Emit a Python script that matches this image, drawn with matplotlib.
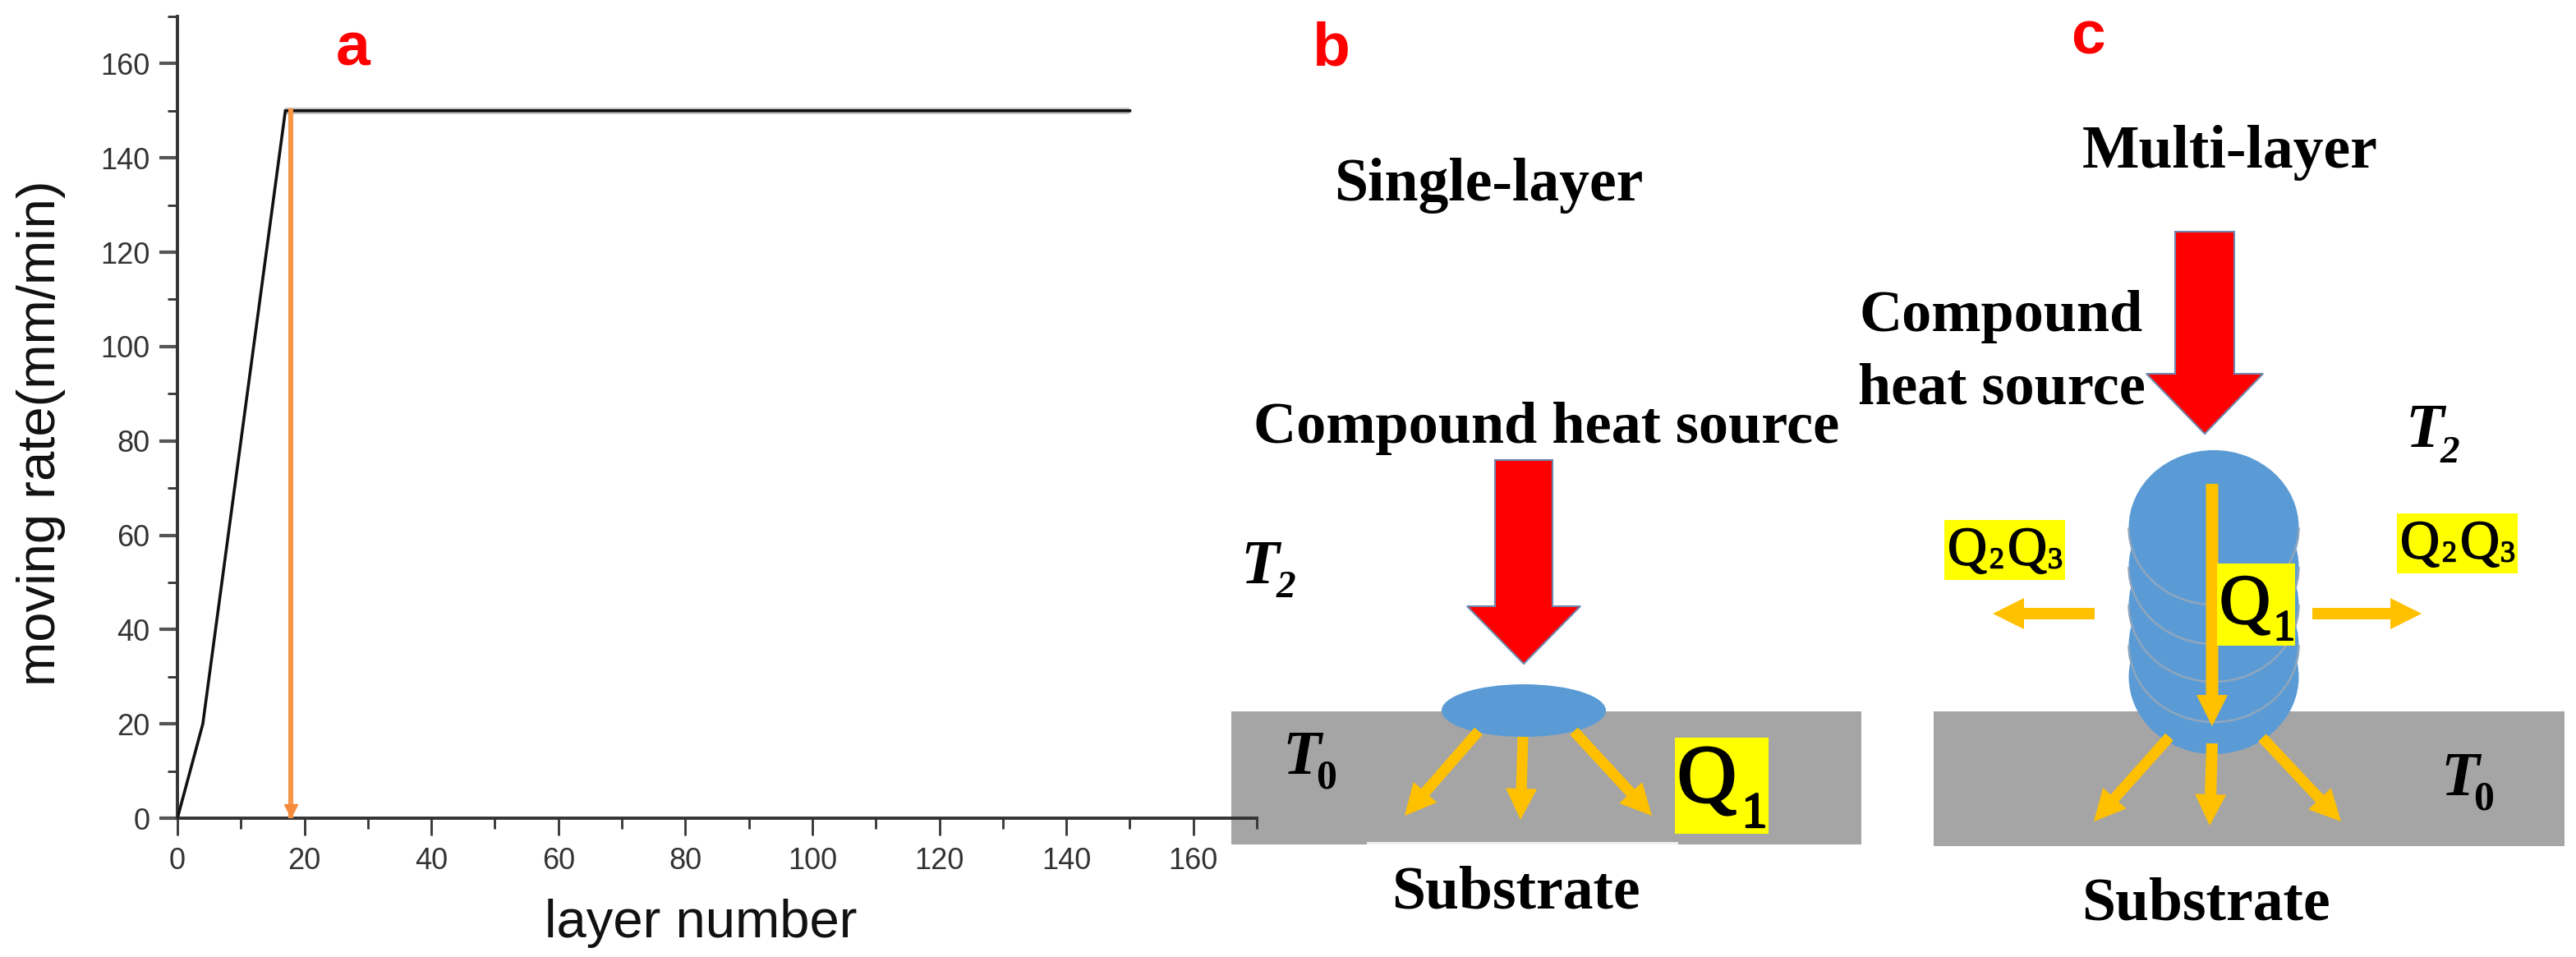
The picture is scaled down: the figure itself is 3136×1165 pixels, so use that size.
import matplotlib
matplotlib.use("Agg")
import matplotlib.pyplot as plt
import matplotlib.patheffects as pe
from matplotlib.patches import Rectangle, Ellipse, FancyArrow, Polygon, Arc
from matplotlib.ticker import MultipleLocator

W, H = 3136, 1165

# panel a data
layers = [0, 4, 17, 150]
rates = [0, 20, 150, 150]
marker_layer = [17.8, 17.8]
marker_rate = [150, 0]
x_major = [0, 20, 40, 60, 80, 100, 120, 140, 160]
y_major = [0, 20, 40, 60, 80, 100, 120, 140, 160]

BLUE = "#5b9bd5"
GRAY = "#a5a5a5"
ORANGE = "#ffc000"
SERIF = "Liberation Serif"
SANS = "Liberation Sans"

fig = plt.figure(figsize=(W / 100, H / 100), dpi=100, facecolor="white")

# the schematic is drawn in picture pixels on a full figure axes
bg = fig.add_axes([0, 0, 1, 1], zorder=1)
bg.set_xlim(0, W)
bg.set_ylim(H, 0)
bg.axis("off")

# chart axes sits on top, its end tick runs over the grey block
ax = fig.add_axes([216 / W, 1 - 996 / H, (1530 - 216) / W, (996 - 20) / H], zorder=2)
ax.patch.set_alpha(0)
ax.plot(layers[2:], rates[2:], color="#c8c8c8", lw=6, solid_capstyle="butt", zorder=2)
ax.plot(layers, rates, color="#111111", lw=2.6, solid_joinstyle="miter", zorder=3)
ax.plot(marker_layer, marker_rate, color="#f79646", lw=4.4, zorder=4)
ax.plot(marker_layer[1:], [1.5], marker="v", ms=11, color="#f58a3c", clip_on=False, zorder=5)
ax.set_xlim(0, 170)
ax.set_ylim(0, 170)
ax.spines["top"].set_visible(False)
ax.spines["right"].set_visible(False)
for side in ["left", "bottom"]:
    ax.spines[side].set_linewidth(2.8)
    ax.spines[side].set_color("#333333")
ax.set_xticks(x_major)
ax.set_yticks(y_major)
ax.xaxis.set_minor_locator(MultipleLocator(10))
ax.yaxis.set_minor_locator(MultipleLocator(10))
ax.tick_params(axis="x", which="major", length=15, width=2, color="#333333", pad=10,
               labelsize=26, labelcolor="#333333")
ax.tick_params(axis="y", which="major", length=16, width=3, color="#555555", pad=8,
               labelsize=26, labelcolor="#333333")
ax.tick_params(which="minor", length=9, width=2, color="#333333")
for lab in ax.get_xticklabels() + ax.get_yticklabels():
    lab.set_family(SANS)
fig.text(853 / W, 1 - 1124 / H, "layer number", fontsize=47, family=SANS, color="#111111",
         ha="center", va="center", zorder=3)
fig.text(50 / W, 1 - 527 / H, "moving rate(mm/min)", fontsize=47, family=SANS, color="#111111",
         rotation=90, ha="center", va="center", zorder=3)


def label(x, y, s, size=53, style="normal", weight="bold", family=SERIF, color="black", ha="center", z=10, thick=0):
    t = bg.text(x, y, s, fontsize=size, style=style, weight=weight, family=family, color=color,
                ha=ha, va="center", zorder=z)
    if thick:
        # the big Q is a regular face, but heavy in the picture
        t.set_path_effects([pe.withStroke(linewidth=thick, foreground=color)])


def orange(x0, y0, x1, y1, width=13, z=6):
    bg.add_patch(FancyArrow(x0, y0, x1 - x0, y1 - y0, width=width, head_width=38, head_length=38,
                            length_includes_head=True, fc=ORANGE, ec="none", zorder=z))


def red_arrow(cx, top, shaft, base, half, tip):
    pts = [(cx - shaft, top), (cx + shaft, top), (cx + shaft, base), (cx + half, base),
           (cx, tip), (cx - half, base), (cx - shaft, base)]
    bg.add_patch(Polygon(pts, closed=True, fc="red", ec="#6f86ad", lw=1.5, zorder=5))


def q_box(x0, y0, x1, y1):
    bg.add_patch(Rectangle((x0, y0), x1 - x0, y1 - y0, fc="#ffff00", ec="none", zorder=7))


def sym(x, y, s, size, sub, sub_x, sub_y, sub_size, style="normal", weight="normal", sub_style="normal", thick=0):
    label(x, y, s, size=size, style=style, weight=weight, thick=thick)
    label(sub_x, sub_y, sub, size=sub_size, style=sub_style, weight=weight, thick=thick)


# panel labels
label(430, 60, "a", size=54, family=SANS, color="red")
label(1620, 60, "b", size=54, family=SANS, color="red")
label(2542, 46, "c", size=54, family=SANS, color="red")

# panel b
bg.add_patch(Rectangle((1499, 866), 767, 162, fc=GRAY, ec="none", zorder=1))
bg.add_patch(Rectangle((1664, 1025), 379, 3, fc="#f0f0f0", ec="none", zorder=2))
red_arrow(1855, 560, 35, 738, 69, 808)
bg.add_patch(Ellipse((1855, 865), 200, 64, fc=BLUE, ec="none", zorder=4))
orange(1800, 890, 1710, 993)
orange(1854, 897, 1851, 998)
orange(1916, 890, 2011, 993)
q_box(2039, 898, 2153, 1015)
sym(2078, 952, "Q", 72, "1", 2136, 992, 44, thick=2)
sym(1534, 692, "T", 55, "2", 1565, 716, 34, style="italic", weight="bold", sub_style="italic")
sym(1585, 924, "T", 55, "0", 1615, 948, 36, style="italic", weight="bold")
label(1845, 1088, "Substrate")
label(1883, 522, "Compound heat source", size=52)
label(1812, 226, "Single-layer")

# panel c
bg.add_patch(Rectangle((2354, 866), 768, 164, fc=GRAY, ec="none", zorder=1))
red_arrow(2684, 282, 36, 455, 71, 528)
stack_y = [824, 785, 736, 690, 642]
for i, cy in enumerate(stack_y):
    bg.add_patch(Ellipse((2695, cy), 207, 188, fc=BLUE, ec="none", zorder=3 + i * 0.1))
    if i > 0:
        # only the lower rim of each bead shows
        bg.add_patch(Arc((2695, cy), 207, 188, theta1=0, theta2=180, ec="#8fa6bd", lw=1.8, zorder=3 + i * 0.1))
orange(2693, 589, 2693, 884, width=15)
orange(2641, 897, 2549, 1000)
orange(2693, 905, 2690, 1005, width=14)
orange(2754, 898, 2850, 1000)
orange(2550, 747, 2426, 747, width=14)
orange(2815, 747, 2948, 747, width=14)
q_box(2699, 686, 2794, 786)
sym(2733, 738, "Q", 62, "1", 2781, 766, 38, thick=1.5)
for bx0, by0 in [(2367, 633), (2918, 625)]:
    q_box(bx0, by0, bx0 + 147, by0 + 73)
    sym(bx0 + 28, by0 + 38, "Q", 48, "2", bx0 + 64, by0 + 50, 26, thick=1)
    sym(bx0 + 101, by0 + 38, "Q", 48, "3", bx0 + 135, by0 + 50, 26, thick=1)
sym(2952, 526, "T", 55, "2", 2982, 552, 34, style="italic", weight="bold", sub_style="italic")
sym(2995, 950, "T", 55, "0", 3024, 974, 36, style="italic", weight="bold")
label(2685, 1101, "Substrate")
label(2264, 386, "Compound", size=52, ha="left")
label(2262, 474, "heat source", size=52, ha="left")
label(2715, 186, "Multi-layer")

fig.savefig("out.png", dpi=100, facecolor="white")
plt.close(fig)
